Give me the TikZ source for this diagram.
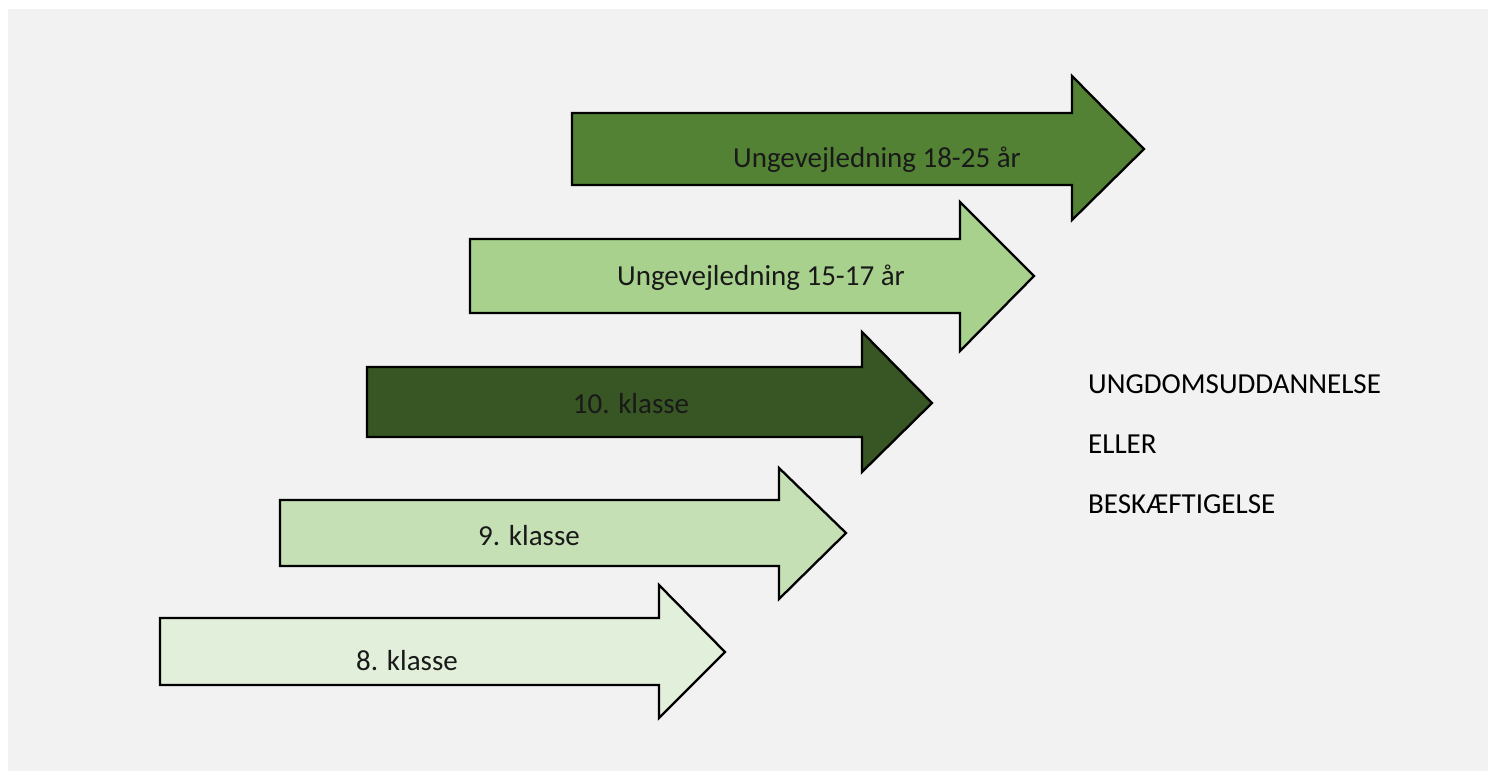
\documentclass[tikz,border=0pt]{standalone}
\usepackage{fontspec}
\setmainfont{Carlito}
\definecolor{bggray}{HTML}{F2F2F2}
\definecolor{gA}{HTML}{548235}
\definecolor{gB}{HTML}{A9D18E}
\definecolor{gC}{HTML}{375623}
\definecolor{gD}{HTML}{C5E0B4}
\definecolor{gE}{HTML}{E2EFDA}
\tikzset{
  arrowshape/.style={draw=black, line width=2.3pt, line join=miter},
  arrowlabel/.style={anchor=base, inner sep=0pt, font=\fontsize{29}{34}\selectfont, text=black!90},
  sidetext/.style={anchor=base west, inner sep=0pt, font=\fontsize{29}{34}\selectfont, text=black}
}
\begin{document}
\begin{tikzpicture}[x=1pt, y=-1pt]
\useasboundingbox (0,0) rectangle (1488,771);
\fill[white] (0,0) rectangle (1488,771);
\fill[bggray] (8,9) rectangle (1488,771);
% arrow A
\draw[arrowshape, fill=gA] (572,113) -- (1072,113) -- (1072,76) -- (1144,149) -- (1072,220) -- (1072,185) -- (572,185) -- cycle;
\node[arrowlabel] (lA) at (877,167) {Ungevejledning 18-25 år};
% arrow B
\draw[arrowshape, fill=gB] (470,239) -- (960,239) -- (960,202) -- (1034,276) -- (960,351) -- (960,313) -- (470,313) -- cycle;
\node[arrowlabel] (lB) at (761,285) {Ungevejledning 15-17 år};
% arrow C
\draw[arrowshape, fill=gC] (367,367) -- (862,367) -- (862,332) -- (932,403) -- (862,472) -- (862,437) -- (367,437) -- cycle;
\node[arrowlabel] (lC) at (631,413) {10. klasse};
% arrow D
\draw[arrowshape, fill=gD] (280,500) -- (779,500) -- (779,468) -- (846,533) -- (779,599) -- (779,566) -- (280,566) -- cycle;
\node[arrowlabel] (lD) at (529,545) {9. klasse};
% arrow E
\draw[arrowshape, fill=gE] (160,618) -- (659,618) -- (659,585) -- (725,652) -- (659,718) -- (659,685) -- (160,685) -- cycle;
\node[arrowlabel] (lE) at (407,670) {8. klasse};
% side text
\node[sidetext] (t1) at (1088,393) {UNGDOMSUDDANNELSE};
\node[sidetext] (t2) at (1088,453) {ELLER};
\node[sidetext] (t3) at (1088,513) {BESKÆFTIGELSE};
\end{tikzpicture}
\end{document}
